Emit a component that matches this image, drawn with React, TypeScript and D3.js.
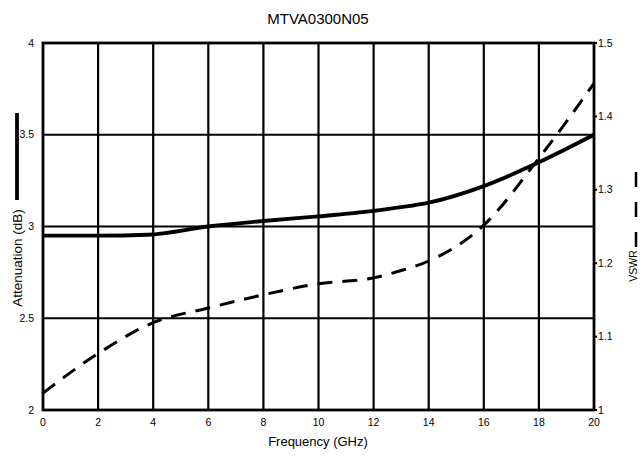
import React from "react";
import * as d3 from "d3";

const freqTicks = [0, 2, 4, 6, 8, 10, 12, 14, 16, 18, 20];
const attTicks = [2, 2.5, 3, 3.5, 4];
const vswrTicks = [1, 1.1, 1.2, 1.3, 1.4, 1.5];

const attFreq = [0, 2, 3.8, 6, 8, 10, 12, 13, 14, 16, 18, 20];
const attValues = [2.95, 2.95, 2.955, 3.0, 3.03, 3.055, 3.085, 3.105, 3.13, 3.22, 3.35, 3.5];

const vswrFreq = [0, 2, 4, 6, 8, 10, 12, 13, 14, 16, 18, 20];
const vswrValues = [1.023, 1.077, 1.119, 1.139, 1.157, 1.172, 1.18, 1.19, 1.203, 1.252, 1.343, 1.445];

const W = 643;
const H = 457;
const M = { left: 43, right: 594, top: 43, bottom: 410 };

export default function App() {
  const x = d3.scaleLinear().domain([0, 20]).range([M.left, M.right]);
  const yA = d3.scaleLinear().domain([2, 4]).range([M.bottom, M.top]);
  const yV = d3.scaleLinear().domain([1, 1.5]).range([M.bottom, M.top]);

  const attLine = d3
    .line<number>()
    .x((_, i) => x(attFreq[i]))
    .y((d) => yA(d))
    .curve(d3.curveMonotoneX);
  const vswrLine = d3
    .line<number>()
    .x((_, i) => x(vswrFreq[i]))
    .y((d) => yV(d))
    .curve(d3.curveMonotoneX);

  const font = "'Liberation Sans', Arial, sans-serif";

  return (
    <svg
      width={W}
      height={H}
      style={{ position: "absolute", left: 0, top: 0, background: "#fff" }}
      fontFamily={font}
    >
      <rect x={0} y={0} width={W} height={H} fill="#fff" />
      <text x={318} y={24} textAnchor="middle" fontSize={15} fill="#000">
        MTVA0300N05
      </text>

      {/* vertical grid */}
      {freqTicks.slice(1, -1).map((f) => (
        <line key={"v" + f} x1={x(f)} x2={x(f)} y1={M.top} y2={M.bottom} stroke="#000" strokeWidth={2.2} />
      ))}
      {/* horizontal grid */}
      {attTicks.slice(1, -1).map((a) => (
        <line key={"h" + a} x1={M.left} x2={M.right} y1={yA(a)} y2={yA(a)} stroke="#000" strokeWidth={2.2} />
      ))}
      {/* frame */}
      <rect
        x={M.left}
        y={M.top}
        width={M.right - M.left}
        height={M.bottom - M.top}
        fill="none"
        stroke="#000"
        strokeWidth={2.8}
      />

      {/* lines */}
      <path d={attLine(attValues) || ""} fill="none" stroke="#000" strokeWidth={3.8} />
      <path
        d={vswrLine(vswrValues) || ""}
        fill="none"
        stroke="#000"
        strokeWidth={3}
        strokeDasharray="15,10"
      />

      {/* left ticks */}
      {attTicks.map((a) => (
        <text key={"la" + a} x={34} y={yA(a) + 3.5} textAnchor="end" fontSize={10.5} fill="#000">
          {a}
        </text>
      ))}
      {/* right ticks */}
      {vswrTicks.map((v) => (
        <g key={"rv" + v}>
          <line x1={M.right} x2={M.right + 3} y1={yV(v)} y2={yV(v)} stroke="#000" strokeWidth={2} />
          <text x={M.right + 4} y={yV(v) + 3.5} textAnchor="start" fontSize={10.5} fill="#000">
            {v}
          </text>
        </g>
      ))}
      {/* bottom ticks */}
      {freqTicks.map((f) => (
        <text key={"bf" + f} x={x(f)} y={426} textAnchor="middle" fontSize={10.5} fill="#000">
          {f}
        </text>
      ))}
      <text x={318} y={446} textAnchor="middle" fontSize={13} fill="#000">
        Frequency (GHz)
      </text>

      {/* left legend */}
      <line x1={17} x2={17} y1={113} y2={200} stroke="#000" strokeWidth={3.8} />
      <text
        transform="translate(22,258) rotate(-90)"
        textAnchor="middle"
        fontSize={13.5}
        fill="#000"
      >
        Attenuation (dB)
      </text>

      {/* right legend */}
      <line
        x1={636}
        x2={636}
        y1={172}
        y2={250}
        stroke="#000"
        strokeWidth={2.5}
        strokeDasharray="15,15"
      />
      <text
        transform="translate(637,266) rotate(-90)"
        textAnchor="middle"
        fontSize={10.5}
        fill="#000"
      >
        VSWR
      </text>
    </svg>
  );
}
